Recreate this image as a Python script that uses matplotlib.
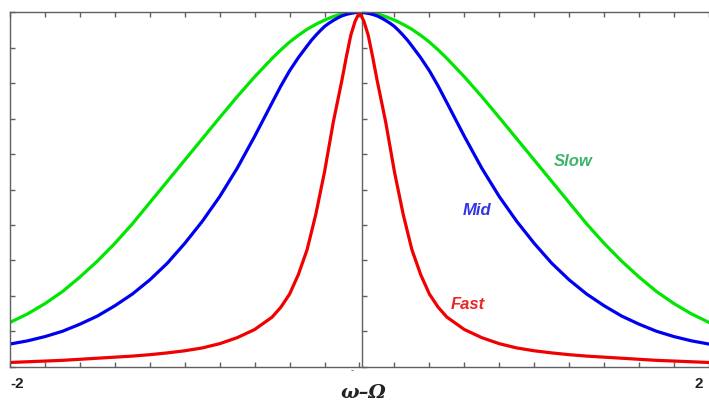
import numpy as np
import matplotlib
matplotlib.use("Agg")
import matplotlib.pyplot as plt

# detuning (omega - Omega) for the right half; curves are symmetric
x_half = [0.0, 0.025, 0.05, 0.075, 0.1, 0.125, 0.15, 0.175, 0.2, 0.225, 0.25, 0.275,
          0.3, 0.35, 0.4, 0.45, 0.5, 0.6, 0.7, 0.8, 0.9, 1.0, 1.1, 1.2, 1.3, 1.4,
          1.5, 1.6, 1.7, 1.8, 1.9, 2.0]
slow_half = [1.0, 1.0, 0.999, 0.997, 0.995, 0.992, 0.988, 0.983, 0.978, 0.972, 0.966, 0.959,
             0.952, 0.935, 0.916, 0.894, 0.870, 0.818, 0.762, 0.703, 0.643, 0.583, 0.523, 0.463,
             0.403, 0.348, 0.298, 0.253, 0.212, 0.178, 0.149, 0.125]
mid_half = [1.0, 0.999, 0.997, 0.994, 0.99, 0.984, 0.977, 0.969, 0.96, 0.948, 0.935, 0.921,
            0.905, 0.872, 0.835, 0.792, 0.745, 0.65, 0.56, 0.48, 0.41, 0.348, 0.292, 0.245,
            0.205, 0.172, 0.143, 0.12, 0.1, 0.085, 0.073, 0.064]
fast_half = [1.0, 0.975, 0.935, 0.875, 0.81, 0.75, 0.69, 0.62, 0.55, 0.49, 0.43, 0.38,
             0.33, 0.26, 0.205, 0.168, 0.14, 0.105, 0.082, 0.065, 0.053, 0.045, 0.039, 0.034,
             0.030, 0.027, 0.024, 0.021, 0.018, 0.016, 0.014, 0.012]

# full curves, mirrored about zero
x = np.concatenate([-np.array(x_half[:0:-1]), x_half])
slow = np.concatenate([slow_half[:0:-1], slow_half])
mid = np.concatenate([mid_half[:0:-1], mid_half])
fast = np.concatenate([fast_half[:0:-1], fast_half])

labels = ["Slow", "Mid", "Fast"]
label_pos = [(1.22, 0.58), (0.67, 0.44), (0.62, 0.175)]

xmin, xmax = -2.0, 1.97

fig = plt.figure(figsize=(7.09, 4.03), dpi=100)
ax = fig.add_axes([0.0141, 0.09, 0.9859, 0.8795])

ax.plot(x, slow, color="#00e600", lw=2.3)
ax.plot(x, mid, color="#0000f0", lw=2.3)
ax.plot(x, fast, color="#f00000", lw=2.3)

ax.set_xlim(xmin, xmax)
ax.set_ylim(0, 1)

for s in ["left", "top", "bottom"]:
    ax.spines[s].set_color("#606060")
    ax.spines[s].set_linewidth(1.0)
ax.spines["right"].set_visible(False)

ax.set_xticks(np.arange(-2, 2.01, 0.2))
ax.set_yticks(np.arange(0, 1.01, 0.1))
ax.tick_params(axis="both", direction="in", length=3.5, width=1, color="#606060",
               top=True, right=False, labelbottom=False, labelleft=False)

# vertical axis through zero, ticks pointing right
loc0 = (0 - xmin) / (xmax - xmin)
sec = ax.secondary_yaxis(loc0)
for sp in sec.spines.values():
    sp.set_color("#606060")
    sp.set_linewidth(1.0)
sec.set_yticks(np.arange(0, 1.01, 0.1))
sec.tick_params(direction="out", length=3.5, width=1, color="#606060",
                labelleft=False, labelright=False)

tick_font = dict(family="Liberation Sans", weight="bold", fontsize=11, color="#222222")
ax.text(-2.0, -0.05, "-2", ha="left", va="center", clip_on=False, **tick_font)
ax.text(1.968, -0.05, "2", ha="right", va="center", clip_on=False, **tick_font)
ax.text(-0.04, -0.012, "-", ha="center", va="center", fontsize=6, color="#555555",
        clip_on=False)
ax.text(0.02, -0.075, "ω–Ω", ha="center", va="center", family="DejaVu Serif",
        style="italic", weight="bold", fontsize=14, color="#222222", clip_on=False)

label_colors = ["#3cb46e", "#3434e6", "#e82828"]
for name, (lx, ly), c in zip(labels, label_pos, label_colors):
    ax.text(lx, ly, name, ha="center", va="center", color=c, family="Liberation Sans",
            style="italic", weight="bold", fontsize=12)

fig.savefig("out.png", dpi=100)
